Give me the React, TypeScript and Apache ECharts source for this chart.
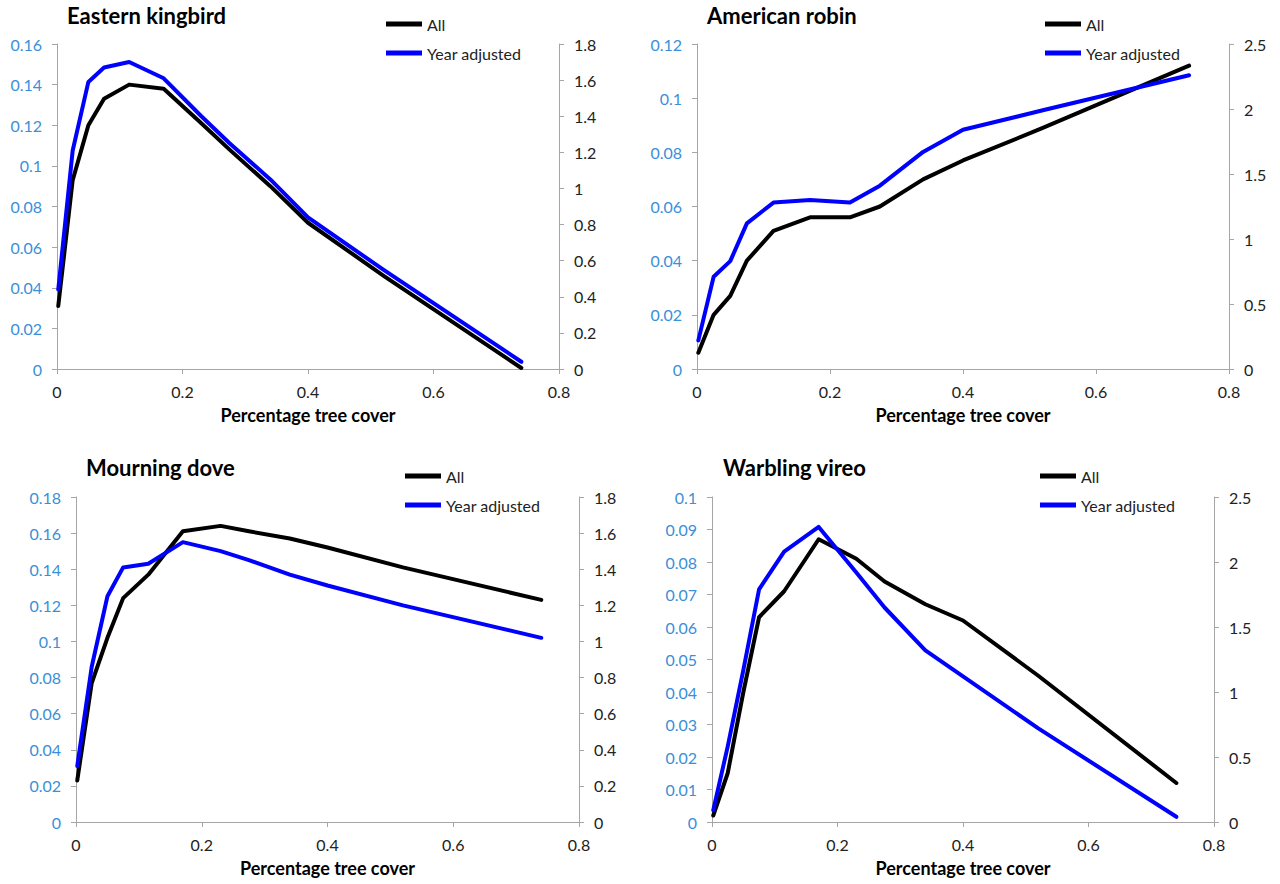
import React, { useEffect, useRef } from "react";
import * as echarts from "echarts";

const xCover = [0.002, 0.025, 0.05, 0.075, 0.115, 0.17, 0.23, 0.275, 0.34, 0.4, 0.52, 0.74];

const titles = ["Eastern kingbird", "American robin", "Mourning dove", "Warbling vireo"];

const kingbirdAll = [0.031, 0.093, 0.12, 0.133, 0.14, 0.138, 0.121, 0.108, 0.09, 0.072, 0.046, 0.0005];
const kingbirdYear = [0.44, 1.21, 1.59, 1.67, 1.7, 1.61, 1.4, 1.25, 1.05, 0.84, 0.55, 0.04];

const robinAll = [0.006, 0.02, 0.027, 0.04, 0.051, 0.056, 0.056, 0.06, 0.07, 0.077, 0.089, 0.112];
const robinYear = [0.22, 0.71, 0.83, 1.12, 1.28, 1.3, 1.28, 1.41, 1.67, 1.84, 1.99, 2.26];

const doveAll = [0.023, 0.077, 0.102, 0.124, 0.137, 0.161, 0.164, 0.161, 0.157, 0.152, 0.141, 0.123];
const doveYear = [0.31, 0.86, 1.25, 1.41, 1.43, 1.55, 1.5, 1.45, 1.37, 1.31, 1.2, 1.02];

const vireoAll = [0.002, 0.015, 0.04, 0.063, 0.071, 0.087, 0.081, 0.074, 0.067, 0.062, 0.045, 0.012];
const vireoYear = [0.09, 0.58, 1.17, 1.79, 2.08, 2.27, 1.92, 1.65, 1.32, 1.12, 0.72, 0.04];

const leftMax = [0.16, 0.12, 0.18, 0.1];
const leftStep = [0.02, 0.02, 0.02, 0.01];
const rightMax = [1.8, 2.5, 1.8, 2.5];
const rightStep = [0.2, 0.5, 0.2, 0.5];

const allSeries = [kingbirdAll, robinAll, doveAll, vireoAll];
const yearSeries = [kingbirdYear, robinYear, doveYear, vireoYear];

const grids = [
  { left: 57, top: 44, width: 502, height: 325 },
  { left: 697, top: 44, width: 532, height: 325 },
  { left: 76, top: 497, width: 503, height: 325 },
  { left: 712, top: 497, width: 502, height: 325 },
];
const titlePos = [
  { left: 67, top: 4 },
  { left: 707, top: 4 },
  { left: 86, top: 456 },
  { left: 723, top: 456 },
];
const legendPos = [
  { left: 386, top: 15 },
  { left: 1045, top: 15 },
  { left: 405, top: 467 },
  { left: 1040, top: 467 },
];

const FONT = "Lato, 'Open Sans', sans-serif";
const AXIS_GREY = "#a6a6a6";
const fmt = (v: number) => String(+v.toFixed(3));

export default function App() {
  const ref = useRef<HTMLDivElement>(null);
  useEffect(() => {
    if (!ref.current) return;
    const chart = echarts.init(ref.current, undefined, { renderer: "svg" });
    const xAxis: any[] = [];
    const yAxis: any[] = [];
    const series: any[] = [];
    const title: any[] = [];
    const legend: any[] = [];
    for (let i = 0; i < 4; i++) {
      xAxis.push({
        type: "value",
        gridIndex: i,
        min: 0,
        max: 0.8,
        interval: 0.2,
        name: "Percentage tree cover",
        nameLocation: "middle",
        nameGap: 37,
        nameTextStyle: { fontFamily: FONT, fontSize: 18, fontWeight: "bold", color: "#000" },
        axisLine: { show: true, lineStyle: { color: AXIS_GREY, width: 1 } },
        axisTick: { show: true, length: 5, lineStyle: { color: AXIS_GREY } },
        axisLabel: { fontFamily: FONT, fontSize: 16, color: "#222", margin: 14, formatter: fmt },
        splitLine: { show: false },
      });
      yAxis.push({
        type: "value",
        gridIndex: i,
        position: "left",
        min: 0,
        max: leftMax[i],
        interval: leftStep[i],
        axisLine: { show: true, lineStyle: { color: AXIS_GREY, width: 1 } },
        axisTick: { show: true, length: 5, lineStyle: { color: AXIS_GREY } },
        axisLabel: { fontFamily: FONT, fontSize: 16, color: "#3a8fd8", margin: 15, formatter: fmt },
        splitLine: { show: false },
      });
      yAxis.push({
        type: "value",
        gridIndex: i,
        position: "right",
        min: 0,
        max: rightMax[i],
        interval: rightStep[i],
        axisLine: { show: true, lineStyle: { color: AXIS_GREY, width: 1 } },
        axisTick: { show: true, length: 5, lineStyle: { color: AXIS_GREY } },
        axisLabel: { fontFamily: FONT, fontSize: 16, color: "#222", margin: 15, formatter: fmt },
        splitLine: { show: false },
      });
      series.push({
        name: "All",
        type: "line",
        xAxisIndex: i,
        yAxisIndex: i * 2,
        data: xCover.map((x, k) => [x, allSeries[i][k]]),
        showSymbol: false,
        color: "#000000",
        lineStyle: { color: "#000000", width: 4, cap: "round", join: "round" },
        z: 2,
      });
      series.push({
        name: "Year adjusted",
        type: "line",
        xAxisIndex: i,
        yAxisIndex: i * 2 + 1,
        data: xCover.map((x, k) => [x, yearSeries[i][k]]),
        showSymbol: false,
        color: "#0000ff",
        lineStyle: { color: "#0000ff", width: 4, cap: "round", join: "round" },
        z: 3,
      });
      title.push({
        text: titles[i],
        left: titlePos[i].left,
        top: titlePos[i].top,
        padding: 0,
        textStyle: { fontFamily: FONT, fontSize: 22, fontWeight: "bold", color: "#000" },
      });
      legend.push({
        data: ["All", "Year adjusted"],
        left: legendPos[i].left,
        top: legendPos[i].top,
        orient: "vertical",
        padding: 0,
        icon: "rect",
        itemWidth: 36,
        itemHeight: 5,
        itemGap: 11,
        itemTextGap: 3,
        selectedMode: false,
        textStyle: { fontFamily: FONT, fontSize: 16, color: "#222", lineHeight: 18 },
      });
    }
    chart.setOption({
      animation: false,
      backgroundColor: "#ffffff",
      grid: grids.map((g) => ({ ...g, containLabel: false })),
      xAxis,
      yAxis,
      series,
      title,
      legend,
    });
    return () => chart.dispose();
  }, []);
  return (
    <div
      ref={ref}
      style={{ position: "fixed", left: 0, top: 0, width: 1280, height: 884, background: "#fff" }}
    />
  );
}
